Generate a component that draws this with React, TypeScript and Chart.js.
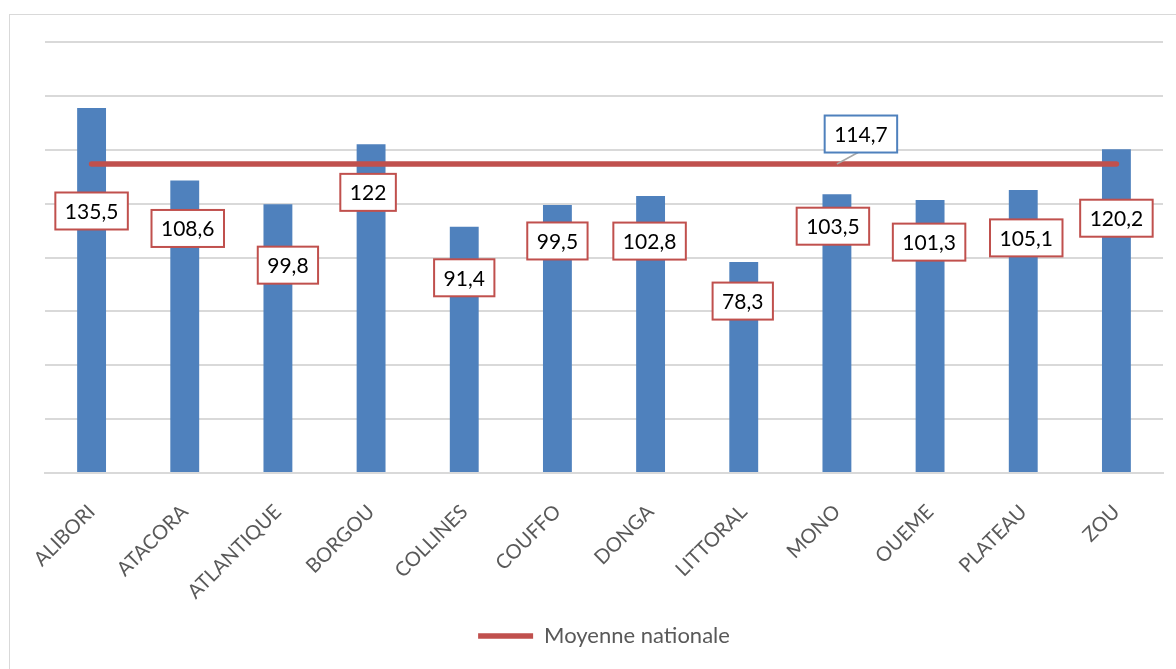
import React, { useEffect, useRef } from "react";
import { Chart, registerables } from "chart.js";

Chart.register(...registerables);

const categories = [
  "ALIBORI", "ATACORA", "ATLANTIQUE", "BORGOU", "COLLINES", "COUFFO",
  "DONGA", "LITTORAL", "MONO", "OUEME", "PLATEAU", "ZOU",
];
const values = [135.5, 108.6, 99.8, 122, 91.4, 99.5, 102.8, 78.3, 103.5, 101.3, 105.1, 120.2];
const nationalAverage = 114.7;
const averageSeries = categories.map(() => nationalAverage);
const averageLabel = "Moyenne nationale";

// label nudges (pixels) relative to bar top / center, as placed in the original
const labelDy = [103, 48, 61, 48, 51, 36, 45, 39, 32, 42, 48, 69];
const labelDx = [0, 3, 10, -3, 0, 0, -1, -1, -4, -1, 3, 0];
const avgLabelIndex = 8;

const FONT = "Lato, 'Open Sans', sans-serif";

const fmt = (v: number) => v.toString().replace(".", ",");

function drawBox(ctx: CanvasRenderingContext2D, cx: number, cy: number, text: string, border: string) {
  ctx.save();
  ctx.font = `21px ${FONT}`;
  const w = ctx.measureText(text).width + 19;
  const h = 37;
  ctx.fillStyle = "#ffffff";
  ctx.fillRect(cx - w / 2, cy - h / 2, w, h);
  ctx.strokeStyle = border;
  ctx.lineWidth = 2;
  ctx.strokeRect(cx - w / 2, cy - h / 2, w, h);
  ctx.fillStyle = "#000000";
  ctx.textAlign = "center";
  ctx.textBaseline = "middle";
  ctx.fillText(text, cx, cy + 1);
  ctx.restore();
}

const labelsPlugin = {
  id: "boxLabels",
  afterDatasetsDraw(chart: any) {
    const ctx = chart.ctx as CanvasRenderingContext2D;
    const barMeta = chart.getDatasetMeta(1);
    barMeta.data.forEach((bar: any, i: number) => {
      drawBox(ctx, bar.x + labelDx[i], bar.y + labelDy[i], fmt(values[i]), "#c0504d");
    });
    const lineMeta = chart.getDatasetMeta(0);
    const pt = lineMeta.data[avgLabelIndex];
    if (pt) {
      const bx = pt.x + 24;
      const by = pt.y - 30;
      ctx.save();
      ctx.strokeStyle = "#a6a6a6";
      ctx.lineWidth = 1.5;
      ctx.beginPath();
      ctx.moveTo(pt.x, pt.y);
      ctx.lineTo(bx - 2, by + 18);
      ctx.stroke();
      ctx.restore();
      drawBox(ctx, bx, by, fmt(nationalAverage), "#4f81bd");
    }
  },
};

export default function App() {
  const ref = useRef<HTMLCanvasElement>(null);
  useEffect(() => {
    if (!ref.current) return;
    const chart = new Chart(ref.current, {
      type: "bar",
      data: {
        labels: categories,
        datasets: [
          {
            type: "line",
            label: averageLabel,
            data: averageSeries,
            borderColor: "#c0504d",
            backgroundColor: "#c0504d",
            borderWidth: 5.5,
            borderCapStyle: "round",
            pointRadius: 0,
            pointStyle: "line",
            order: 0,
          } as any,
          {
            type: "bar",
            label: "Valeurs",
            data: values,
            backgroundColor: "#4f81bd",
            barPercentage: 0.31,
            categoryPercentage: 1,
            order: 1,
          },
        ],
      },
      options: {
        animation: false,
        responsive: false,
        maintainAspectRatio: false,
        layout: { padding: { top: 42, left: 45, right: 13, bottom: 12 } },
        plugins: {
          tooltip: { enabled: false },
          legend: {
            position: "bottom",
            labels: {
              filter: (item: any) => item.text === averageLabel,
              usePointStyle: true,
              pointStyle: "line",
              pointStyleWidth: 55,
              boxWidth: 55,
              boxHeight: 5,
              color: "#595959",
              font: { family: FONT, size: 22 },
              padding: 10,
            },
          },
        },
        scales: {
          x: {
            grid: { display: false },
            border: { display: true, color: "#d9d9d9", width: 2 },
            ticks: {
              color: "#595959",
              font: { family: FONT, size: 20 },
              minRotation: 45,
              maxRotation: 45,
              padding: 19,
            },
            afterFit: (s: any) => {
              s.height = 142;
            },
          },
          y: {
            min: 0,
            max: 160,
            ticks: { display: false, stepSize: 20 },
            grid: { color: "#d9d9d9", lineWidth: 2, drawTicks: false },
            border: { display: false },
            afterFit: (s: any) => {
              s.width = 0;
            },
          },
        },
      },
      plugins: [labelsPlugin],
    });
    return () => chart.destroy();
  }, []);

  return (
    <div
      style={{
        position: "fixed",
        left: 0,
        top: 0,
        width: 1176,
        height: 669,
        overflow: "hidden",
        background: "#ffffff",
      }}
    >
      <div
        style={{
          position: "absolute",
          left: 9,
          top: 14,
          width: 1300,
          height: 800,
          border: "1px solid #d9d9d9",
        }}
      />
      <canvas
        ref={ref}
        width={1176}
        height={669}
        style={{ position: "absolute", left: 0, top: 0, width: 1176, height: 669 }}
      />
    </div>
  );
}
